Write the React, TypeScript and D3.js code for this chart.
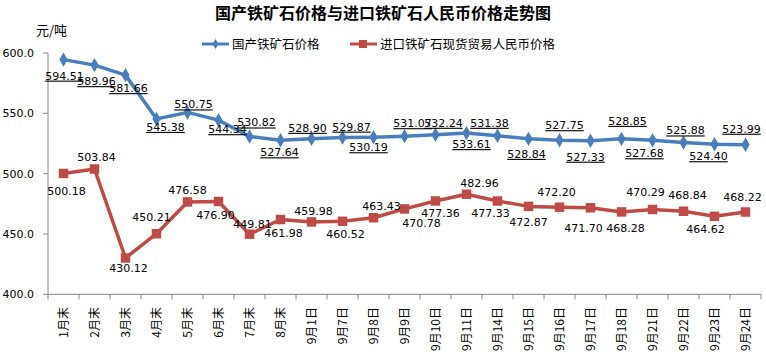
import React from "react";
import * as d3 from "d3";

const categories = ["1月末","2月末","3月末","4月末","5月末","6月末","7月末","8月末","9月1日","9月7日","9月8日","9月9日","9月10日","9月11日","9月14日","9月15日","9月16日","9月17日","9月18日","9月21日","9月22日","9月23日","9月24日"];
const domestic = [594.51,589.96,581.66,545.38,550.75,544.34,530.82,527.64,528.90,529.87,530.19,531.07,532.24,533.61,531.38,528.84,527.75,527.33,528.85,527.68,525.88,524.40,523.99];
const imported = [500.18,503.84,430.12,450.21,476.58,476.90,449.81,461.98,459.98,460.52,463.43,470.78,477.36,482.96,477.33,472.87,472.20,471.70,468.28,470.29,468.84,464.62,468.22];
const yTicks = [400, 450, 500, 550, 600];
const title = "国产铁矿石价格与进口铁矿石人民币价格走势图";
const unit = "元/吨";
const seriesNames = ["国产铁矿石价格", "进口铁矿石现货贸易人民币价格"];

// label offsets (style): [dx, dy] relative to point
const domesticLabelOffset = [[1,16],[2,16],[3,13],[9,8],[6,-8],[9,9],[7,-14],[-1,12],[-4,-11],[9,-11],[-5,10],[8,-13],[8,-12],[5,11],[-8,-13],[-2,15],[5,-15],[-5,16],[6,-18],[-8,13],[2,-12],[-6,12],[-4,-16]];
const importedLabelOffset = [[3,18],[2,-12],[3,10],[-5,-17],[0,-12],[-3,13],[3,-10],[3,13],[2,-11],[3,13],[8,-12],[17,14],[5,12],[13,-11],[-7,12],[0,16],[-3,-15],[-7,20],[4,16],[-7,-17],[4,-16],[-9,13],[-3,-15]];

const BLUE = "#4A7EBB";
const RED = "#BE4B48";
const AXIS = "#868686";
const CJK = "'Noto Sans CJK SC', sans-serif";
const NUM = "'DejaVu Sans', sans-serif";

export default function App() {
  const W = 766, H = 359;
  const left = 48, right = 761, top = 53.0, bottom = 294.3;
  const x = d3.scaleBand<string>().domain(categories).range([left, right]);
  const y = d3.scaleLinear().domain([400, 600]).range([bottom, top]);
  const cx = (c: string) => (x(c) as number) + x.bandwidth() / 2;
  const line = d3.line<number>().x((_, i) => cx(categories[i])).y(v => y(v));
  const diamond = d3.symbol().type(d3.symbolDiamond).size(60)() as string;
  const square = d3.symbol().type(d3.symbolSquare).size(90)() as string;
  const bounds = [...categories.map(c => x(c) as number), right];

  return (
    <svg width={W} height={H} style={{ position: "absolute", left: 0, top: 0, background: "#fff" }}>
      <rect x={0} y={0} width={W} height={H} fill="#fff" />
      <text x={383} y={19} textAnchor="middle" fontFamily={CJK} fontWeight="bold" fontSize={16} fill="#000">{title}</text>
      <text x={36} y={35} fontFamily={CJK} fontSize={13} fill="#000">{unit}</text>
      {/* legend */}
      <line x1={202} x2={229} y1={44} y2={44} stroke={BLUE} strokeWidth={3} />
      <path d={d3.symbol().type(d3.symbolDiamond).size(30)() as string} transform="translate(215.5,44)" fill={BLUE} />
      <text x={232} y={48.5} fontFamily={CJK} fontSize={12.5} fill="#000">{seriesNames[0]}</text>
      <line x1={350} x2={377} y1={44} y2={44} stroke={RED} strokeWidth={3} />
      <rect x={359} y={40} width={8} height={8} fill={RED} />
      <text x={380} y={48.5} fontFamily={CJK} fontSize={12.5} fill="#000">{seriesNames[1]}</text>

      {/* y axis */}
      <line x1={left} x2={left} y1={top} y2={bottom} stroke={AXIS} strokeWidth={1} />
      {yTicks.map(t => (
        <g key={t}>
          <line x1={left - 5} x2={left} y1={y(t)} y2={y(t)} stroke={AXIS} />
          <text x={34} y={y(t) + 4} textAnchor="end" fontFamily={NUM} fontSize={11} fill="#000">{t.toFixed(1)}</text>
        </g>
      ))}
      {/* x axis */}
      <line x1={left} x2={right} y1={bottom} y2={bottom} stroke={AXIS} strokeWidth={1} />
      {bounds.map((b, i) => (
        <line key={i} x1={b} x2={b} y1={bottom} y2={bottom + 5} stroke={AXIS} />
      ))}
      {categories.map(c => (
        <text key={c} transform={`translate(${cx(c) + 4},307) rotate(-90)`} textAnchor="end" fontFamily={CJK} fontSize={12} fill="#000">{c}</text>
      ))}

      {/* series */}
      <path d={line(domestic) as string} fill="none" stroke={BLUE} strokeWidth={3.5} strokeLinejoin="round" />
      {domestic.map((v, i) => (
        <path key={i} d={diamond} transform={`translate(${cx(categories[i])},${y(v)})`} fill={BLUE} />
      ))}
      <path d={line(imported) as string} fill="none" stroke={RED} strokeWidth={3.5} strokeLinejoin="round" />
      {imported.map((v, i) => (
        <path key={i} d={square} transform={`translate(${cx(categories[i])},${y(v)})`} fill={RED} />
      ))}

      {/* labels */}
      {domestic.map((v, i) => (
        <text key={i} x={cx(categories[i]) + domesticLabelOffset[i][0]} y={y(v) + domesticLabelOffset[i][1] + 4}
          textAnchor="middle" fontFamily={NUM} fontSize={11} fill="#000" style={{ textDecoration: "underline" }}>{v.toFixed(2)}</text>
      ))}
      {imported.map((v, i) => (
        <text key={i} x={cx(categories[i]) + importedLabelOffset[i][0]} y={y(v) + importedLabelOffset[i][1] + 4}
          textAnchor="middle" fontFamily={NUM} fontSize={11} fill="#000">{v.toFixed(2)}</text>
      ))}
    </svg>
  );
}
